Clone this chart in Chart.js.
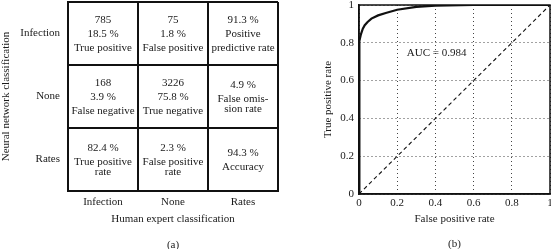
<!DOCTYPE html>
<html>
<head>
<meta charset="utf-8">
<script src="https://cdn.jsdelivr.net/npm/chart.js@4.4.0/dist/chart.umd.min.js"></script>
<style>
  html, body { margin: 0; padding: 0; background: #fff; }
  #wrap { position: relative; width: 551px; height: 249px; overflow: hidden; }
  canvas { position: absolute; top: 0; }
  #matrixChart { left: 0; }
  #rocChart { left: 290px; }
</style>
</head>
<body>
<div id="wrap">
  <canvas id="matrixChart" width="290" height="249"></canvas>
  <canvas id="rocChart" width="261" height="249"></canvas>
</div>
<script>
// confusion matrix (a)
const rowLabels = ['Infection', 'None', 'Rates'];
const colLabels = ['Infection', 'None', 'Rates'];
// one entry per line, '\n' = wrapped label
const cellLines = [
  [['785', '18.5 %', 'True positive'], ['75', '1.8 %', 'False positive'], ['91.3 %', 'Positive', 'predictive rate']],
  [['168', '3.9 %', 'False negative'], ['3226', '75.8 %', 'True negative'], ['4.9 %', 'False omis-\nsion rate']],
  [['82.4 %', 'True positive\nrate'], ['2.3 %', 'False positive\nrate'], ['94.3 %', 'Accuracy']],
];

// ROC curve (b)
const rocFpr = [0, 0, 0.004, 0.01, 0.02, 0.03, 0.045, 0.065, 0.1, 0.14, 0.2, 0.3, 0.4, 0.6, 1];
const rocTpr = [0, 0.76, 0.81, 0.845, 0.875, 0.893, 0.91, 0.928, 0.945, 0.958, 0.975, 0.99, 0.997, 1, 1];
const chanceFpr = [0, 1];
const chanceTpr = [0, 1];
const rocTickLabels = ['0', '0.2', '0.4', '0.6', '0.8', '1'];
const aucLabel = 'AUC = 0.984';

const SERIF = '"Liberation Serif", "Times New Roman", serif';
const INK = '#1a1a1a';
const font11 = { family: SERIF, size: 11 };

Chart.defaults.animation = false;

const cellTextPlugin = {
  id: 'cellText',
  afterDatasetsDraw(chart) {
    const ctx = chart.ctx;
    const meta = chart.getDatasetMeta(0);
    const flat = cellLines.flat();
    ctx.save();
    ctx.font = '11px ' + SERIF;
    ctx.fillStyle = INK;
    ctx.textAlign = 'center';
    ctx.textBaseline = 'middle';
    meta.data.forEach((pt, i) => {
      const lines = [];
      flat[i].forEach((part, j) => {
        part.split('\n').forEach((t, k) => lines.push({ t, gap: j === 0 && k === 0 ? 0 : (k > 0 ? 10 : 14) }));
      });
      const h = lines.reduce((s, l) => s + l.gap, 0);
      let y = pt.y + 1 - h / 2;
      lines.forEach(l => { y += l.gap; ctx.fillText(l.t, pt.x, y); });
    });
    ctx.restore();
  }
};

const cellPoints = [];
rowLabels.forEach(r => colLabels.forEach(c => cellPoints.push({ x: c, y: r })));

new Chart(document.getElementById('matrixChart'), {
  type: 'scatter',
  data: { datasets: [{ data: cellPoints, pointRadius: 0, pointHoverRadius: 0 }] },
  options: {
    responsive: false,
    layout: { padding: { top: 2, right: 12, bottom: 0, left: 0 } },
    plugins: { legend: { display: false }, tooltip: { enabled: false } },
    events: [],
    scales: {
      x: {
        type: 'category', labels: colLabels, offset: true,
        grid: { offset: true, color: '#111', lineWidth: 2, drawTicks: false },
        border: { color: '#111', width: 2 },
        ticks: { color: INK, font: font11, padding: 5 },
        title: { display: true, text: ['Human expert classification', '', '(a)'], color: INK,
                 font: { family: SERIF, size: 11, lineHeight: '13px' }, padding: { top: 0, bottom: -2.5 } },
        afterFit: s => { s.height = 58; s.paddingLeft = 0; s.paddingRight = 0; },
      },
      y: {
        type: 'category', labels: rowLabels, offset: true,
        grid: { offset: true, color: '#111', lineWidth: 2, drawTicks: false },
        border: { color: '#111', width: 2 },
        ticks: { color: INK, font: font11, padding: 8 },
        title: { display: true, text: 'Neural network classification', color: INK, font: font11, padding: { top: 0, bottom: 0 } },
        afterFit: s => { s.width = 68; s.paddingTop = 0; s.paddingBottom = 0; },
      },
    },
  },
  plugins: [cellTextPlugin],
});

const rocExtras = {
  id: 'rocExtras',
  afterDraw(chart) {
    const { ctx, chartArea: a, scales } = chart;
    ctx.save();
    ctx.strokeStyle = '#111';
    ctx.lineWidth = 1.5;
    ctx.strokeRect(a.left, a.top, a.right - a.left, a.bottom - a.top);
    ctx.font = '11px ' + SERIF;
    ctx.fillStyle = INK;
    ctx.textAlign = 'left';
    ctx.textBaseline = 'middle';
    ctx.fillText(aucLabel, scales.x.getPixelForValue(0.25), scales.y.getPixelForValue(0.746));
    ctx.restore();
  }
};

new Chart(document.getElementById('rocChart'), {
  type: 'scatter',
  data: {
    datasets: [
      { data: rocFpr.map((x, i) => ({ x, y: rocTpr[i] })), showLine: true, borderColor: '#111', borderWidth: 2.2, pointRadius: 0, tension: 0 },
      { data: chanceFpr.map((x, i) => ({ x, y: chanceTpr[i] })), showLine: true, borderColor: '#111', borderWidth: 1.1, borderDash: [4, 3], pointRadius: 0 },
    ],
  },
  options: {
    responsive: false,
    layout: { padding: { top: 5, right: 1, bottom: 0, left: 0 } },
    plugins: { legend: { display: false }, tooltip: { enabled: false } },
    events: [],
    scales: {
      x: {
        type: 'linear', min: 0, max: 1,
        grid: { color: '#444', lineWidth: 1, drawTicks: false },
        border: { color: '#111', width: 1.5, dash: [1, 3] },
        ticks: { stepSize: 0.2, color: INK, font: font11, padding: 3, callback: (v, i) => rocTickLabels[i] },
        title: { display: true, text: ['False positive rate', '', '(b)'], color: INK,
                 font: { family: SERIF, size: 11, lineHeight: '12.5px' }, padding: { top: 0, bottom: -1.2 } },
        afterFit: s => { s.height = 55; s.paddingLeft = 0; s.paddingRight = 0; },
      },
      y: {
        type: 'linear', min: 0, max: 1,
        grid: { color: '#444', lineWidth: 1, drawTicks: false },
        border: { color: '#111', width: 1.5, dash: [1, 3] },
        ticks: { stepSize: 0.2, color: INK, font: font11, padding: 5, callback: (v, i) => rocTickLabels[i] },
        title: { display: true, text: 'True positive rate', color: INK, font: font11, padding: { top: 31.4, bottom: 0 } },
        afterFit: s => { s.width = 69; s.paddingTop = 0; s.paddingBottom = 0; },
      },
    },
  },
  plugins: [rocExtras],
});
</script>
</body>
</html>
